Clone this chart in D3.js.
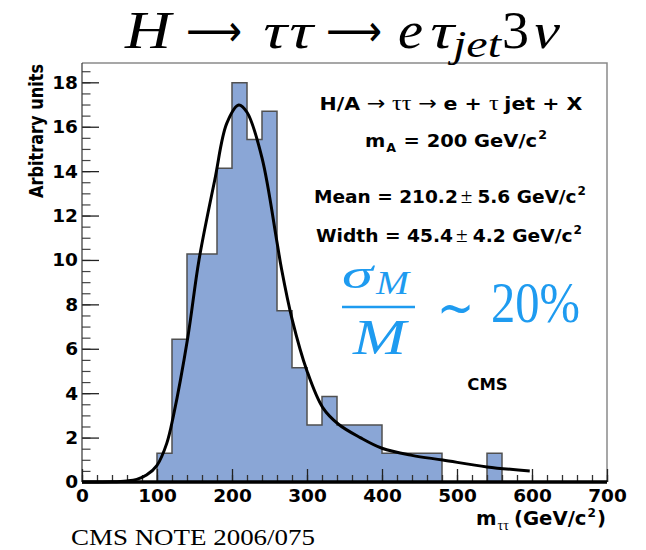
<!DOCTYPE html>
<html>
<head>
<meta charset="utf-8">
<script src="https://cdn.jsdelivr.net/npm/d3@7"></script>
<style>
  html, body { margin: 0; padding: 0; background: #fff; }
  svg { display: block; }
  text { white-space: pre; }
</style>
</head>
<body>
<svg id="chart" width="646" height="550"></svg>
<script>
// ---------------- data ----------------
const binLow    = [100, 120, 140, 160, 180, 200, 220, 240, 260, 280, 300, 320, 340, 360, 380, 400, 420, 440, 460, 480, 500, 520, 540];
const binHeight = [1.29, 6.43, 10.27, 10.27, 14.13, 17.98, 15.42, 16.70, 7.71, 5.14, 2.57, 3.85, 2.57, 2.57, 2.57, 1.29, 1.29, 1.29, 1.29, 0, 0, 0, 1.29];
const binWidth  = 20;

const fitX = [0, 40, 60, 73, 86, 100, 113, 122, 141, 156, 177, 193, 209, 220, 240, 260, 266, 280, 300, 321, 342, 371, 400, 440, 481, 540, 597];
const fitY = [0, 0.01, 0.05, 0.12, 0.31, 0.75, 1.74, 3.0, 6.5, 10.0, 13.6, 16.15, 16.98, 16.65, 14.6, 10.8, 9.6, 7.35, 5.0, 3.35, 2.6, 2.0, 1.52, 1.2, 0.99, 0.68, 0.5];

const xTicks = [0, 100, 200, 300, 400, 500, 600, 700];
const yTicks = [0, 2, 4, 6, 8, 10, 12, 14, 16, 18];

// ---------------- layout ----------------
const svg = d3.select("#chart");
const L = 82, R = 607, T = 63, B = 482;
const x = d3.scaleLinear().domain([0, 700]).range([L, R]);
const y = d3.scaleLinear().domain([0, 18.87]).range([B, T]);

const SANS = "'DejaVu Sans', sans-serif";
const SERIF = "'Liberation Serif', 'Times New Roman', serif";
const ARROWF = "'DejaVu Sans', sans-serif";

// frame (top/right)
svg.append("path")
  .attr("d", `M${L},${T}H${R}V${B}`)
  .attr("fill", "none").attr("stroke", "#8a8a8a").attr("stroke-width", 1.5);

// histogram fill
const bins = binLow.map((lo, i) => ({ lo, hi: lo + binWidth, h: binHeight[i] }));
svg.append("g").selectAll("rect").data(bins.filter(d => d.h > 0)).join("rect")
  .attr("x", d => x(d.lo)).attr("width", d => x(d.hi) - x(d.lo))
  .attr("y", d => y(d.h)).attr("height", d => y(0) - y(d.h))
  .attr("fill", "#8aa6d6");

// histogram outline (step)
let dStep = `M${x(bins[0].lo)},${y(0)}`;
bins.forEach(b => { dStep += `V${y(b.h)}H${x(b.hi)}`; });
dStep += `V${y(0)}`;
svg.append("path").attr("d", dStep)
  .attr("fill", "none").attr("stroke", "#505050").attr("stroke-width", 1.5);

// axes
const yAxisMinor = d3.axisLeft(y).tickValues(d3.range(0, 18.9, 0.5)).tickSize(-8.5).tickFormat("");
svg.append("g").attr("transform", `translate(${L},0)`).call(yAxisMinor)
  .call(g => g.select(".domain").remove())
  .call(g => g.selectAll("line").attr("stroke", "#444").attr("stroke-width", 1.2));

const yAxis = d3.axisLeft(y).tickValues(yTicks).tickSize(-17).tickPadding(4);
svg.append("g").attr("transform", `translate(${L},0)`).call(yAxis)
  .call(g => g.select(".domain").remove())
  .call(g => g.selectAll("line").attr("stroke", "#222").attr("stroke-width", 1.3))
  .call(g => g.selectAll("text").attr("font-family", SANS).attr("font-weight", "bold")
    .attr("font-size", 18.5).attr("fill", "#000"));

svg.append("line").attr("x1", L).attr("x2", L).attr("y1", T).attr("y2", B)
  .attr("stroke", "#333").attr("stroke-width", 1.2);

const xAxisMinor = d3.axisBottom(x).tickValues(d3.range(0, 701, 20)).tickSize(-7).tickFormat("");
svg.append("g").attr("transform", `translate(0,${B})`).call(xAxisMinor)
  .call(g => g.select(".domain").remove())
  .call(g => g.selectAll("line").attr("stroke", "#333").attr("stroke-width", 1.3));

const xAxis = d3.axisBottom(x).tickValues(xTicks).tickSize(-13).tickPadding(7);
svg.append("g").attr("transform", `translate(0,${B})`).call(xAxis)
  .call(g => g.select(".domain").remove())
  .call(g => g.selectAll("line").attr("stroke", "#222").attr("stroke-width", 1.3))
  .call(g => g.selectAll("text").attr("font-family", SANS).attr("font-weight", "bold")
    .attr("font-size", 18.5).attr("fill", "#000"));

// thick x axis line
svg.append("line").attr("x1", L).attr("x2", R).attr("y1", B).attr("y2", B)
  .attr("stroke", "#000").attr("stroke-width", 3.5);

// fit curve
const fitPts = fitX.map((v, i) => [v, fitY[i]]);
svg.append("path").datum(fitPts)
  .attr("d", d3.line().x(d => x(d[0])).y(d => y(d[1])).curve(d3.curveCatmullRom.alpha(0.5)))
  .attr("fill", "none").attr("stroke", "#000").attr("stroke-width", 3);

// ---------------- texts ----------------
function composeLine(segs, ax, by, opts) {
  const g = svg.append("g");
  let cur = 0;
  segs.forEach(s => {
    const t = g.append("text").attr("x", cur).attr("y", s.dy || 0)
      .attr("font-family", s.serif ? SERIF : (s.arrow ? ARROWF : SANS))
      .attr("font-weight", (s.serif || s.arrow) ? "normal" : "bold")
      .attr("font-size", s.size || opts.size)
      .attr("fill", "#000")
      .text(s.t);
    cur += t.node().getComputedTextLength() + (s.gap || 0);
  });
  const w = cur;
  const sx = opts.len ? opts.len / w : 1;
  const x0 = opts.anchor === "end" ? ax - w * sx : ax - w * sx / 2;
  g.attr("transform", `translate(${x0},${by}) scale(${sx},1)`);
  return g;
}

// annotation lines
composeLine([
  { t: "H/A", gap: 6 }, { t: "\u2192", arrow: true, size: 20, gap: 6 },
  { t: "\u03c4\u03c4", serif: true, size: 22, gap: 6 },
  { t: "\u2192", arrow: true, size: 20, gap: 6 }, { t: "e + ", gap: 0 },
  { t: "\u03c4", serif: true, size: 22, gap: 5 }, { t: "jet + X" }
], 451, 110, { size: 18.5, len: 263 });

composeLine([
  { t: "m", gap: 1 }, { t: "A", size: 12, dy: 5, gap: 7 }, { t: "= 200 GeV/c", gap: 1 },
  { t: "2", size: 12, dy: -8 }
], 456, 147, { size: 18.5, len: 182 });

composeLine([
  { t: "Mean = 210.2", gap: 3 }, { t: "\u00b1", serif: true, size: 21, gap: 5 }, { t: "5.6 GeV/c", gap: 1 },
  { t: "2", size: 12, dy: -8 }
], 450, 203, { size: 18.5, len: 272 });

composeLine([
  { t: "Width = 45.4", gap: 3 }, { t: "\u00b1", serif: true, size: 21, gap: 5 }, { t: "4.2 GeV/c", gap: 1 },
  { t: "2", size: 12, dy: -8 }
], 449, 242, { size: 18.5, len: 266 });

composeLine([{ t: "CMS" }], 487.5, 390, { size: 16.5 });

// axis titles
svg.append("text")
  .attr("transform", "translate(43,64) rotate(-90)")
  .attr("text-anchor", "end")
  .attr("font-family", SANS).attr("font-weight", "bold").attr("font-size", 19.5)
  .attr("textLength", 134).attr("lengthAdjust", "spacingAndGlyphs")
  .text("Arbitrary units");

composeLine([
  { t: "m", gap: 1 }, { t: "\u03c4\u03c4", serif: true, size: 14, dy: 5, gap: 5 }, { t: "(GeV/c", gap: 1 },
  { t: "2", size: 12, dy: -8, gap: 1 }, { t: ")" }
], 606, 525, { size: 19.5, anchor: "end", len: 130 });

// blue formula  sigma_M / M ~ 20%
const BLUE = "#1e9bf0";
const f = svg.append("g").attr("fill", BLUE).attr("font-family", SERIF);
f.append("text").attr("x", 342).attr("y", 288).attr("font-style", "italic").attr("font-size", 42)
  .attr("textLength", 31).attr("lengthAdjust", "spacingAndGlyphs").text("\u03c3");
f.append("text").attr("x", 376).attr("y", 294).attr("font-style", "italic").attr("font-size", 34)
  .attr("textLength", 33).attr("lengthAdjust", "spacingAndGlyphs").text("M");
f.append("line").attr("x1", 342).attr("x2", 415).attr("y1", 307).attr("y2", 307)
  .attr("stroke", BLUE).attr("stroke-width", 2.5);
f.append("text").attr("x", 353).attr("y", 354).attr("font-style", "italic").attr("font-size", 50)
  .attr("textLength", 53).attr("lengthAdjust", "spacingAndGlyphs").text("M");
f.append("text").attr("x", 437).attr("y", 326).attr("font-size", 54)
  .attr("textLength", 37).attr("lengthAdjust", "spacingAndGlyphs").text("\u223c");
f.append("text").attr("x", 491).attr("y", 322).attr("font-size", 57)
  .attr("textLength", 89).attr("lengthAdjust", "spacingAndGlyphs").text("20%");

// title
const tg = svg.append("g").attr("font-family", SERIF).attr("fill", "#000");
function tpiece(txt, xp, yp, size, opt) {
  const t = tg.append("text").attr("font-size", size).text(txt);
  if (opt.italic) t.attr("font-style", "italic");
  if (opt.fam) t.attr("font-family", opt.fam);
  if (opt.len) t.attr("textLength", opt.len).attr("lengthAdjust", "spacingAndGlyphs");
  if (opt.skew) {
    t.attr("x", 0).attr("y", 0).attr("transform", `translate(${xp},${yp}) skewX(${opt.skew})`);
  } else {
    t.attr("x", xp).attr("y", yp);
  }
}
tpiece("H", 125, 48, 53, { italic: true, len: 46 });
tpiece("\u27f6", 186, 46, 44, { fam: ARROWF, len: 56 });
tpiece("\u03c4", 259, 48, 50, { skew: -14, len: 26 });
tpiece("\u03c4", 285, 48, 50, { skew: -14, len: 26 });
tpiece("\u27f6", 326, 46, 44, { fam: ARROWF, len: 56 });
tpiece("e", 398, 48, 53, { italic: true, len: 25 });
tpiece("\u03c4", 426, 48, 50, { skew: -14, len: 26 });
tpiece("jet", 453, 57, 38, { italic: true, len: 48 });
tpiece("3", 502, 48, 53, { len: 27 });
tpiece("\u03bd", 530, 48, 50, { skew: -14, len: 26 });

// footnote
svg.append("text").attr("x", 71).attr("y", 545)
  .attr("font-family", SERIF).attr("font-size", 24)
  .attr("textLength", 244).attr("lengthAdjust", "spacingAndGlyphs")
  .text("CMS NOTE 2006/075");
</script>
</body>
</html>
